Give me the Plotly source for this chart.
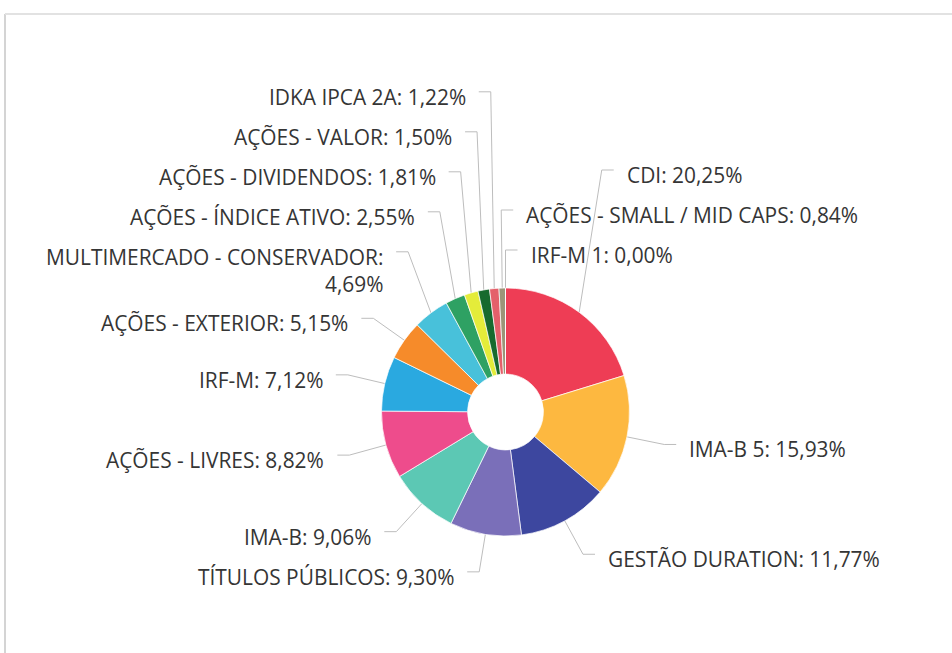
import math
import plotly.graph_objects as go

# ---------------- data ----------------
categories = [
    "CDI", "IMA-B 5", "GESTÃO DURATION", "TÍTULOS PÚBLICOS", "IMA-B",
    "AÇÕES - LIVRES", "IRF-M", "AÇÕES - EXTERIOR", "MULTIMERCADO - CONSERVADOR",
    "AÇÕES - ÍNDICE ATIVO", "AÇÕES - DIVIDENDOS", "AÇÕES - VALOR",
    "IDKA IPCA 2A", "AÇÕES - SMALL / MID CAPS", "IRF-M 1",
]
values = [20.25, 15.93, 11.77, 9.30, 9.06, 8.82, 7.12, 5.15, 4.69,
          2.55, 1.81, 1.50, 1.22, 0.84, 0.00]
colors = [
    "#EE3D55", "#FDB840", "#3D479F", "#7A6FB9", "#5CC8B4",
    "#EE4C8C", "#2AA9E0", "#F68B2A", "#48C1DA",
    "#2EA163", "#E4EC3A", "#176A2E", "#E4606A", "#9C9478", "#8E8E8E",
]

# ---------------- layout settings ----------------
W, H = 952, 653
CX, CY, R = 505.5, 412.0, 124.0
HOLE = 0.306
LABEL_DIST = 38.0        # distance from slice edge to label break point
SEG = 12.0               # horizontal connector segment
TEXT_GAP = 23.0          # distance from break point to text
FONT_SIZE = 20.9
LINE_H = 26.5
TEXT_DY = 5.0
BOX_TOP = 15.0
BOX_BOTTOM = 25.0
FONT_FAMILY = "Open Sans"
TEXT_COLOR = "#353535"
LINE_COLOR = "#BDBDBD"

LEFT_ORDER = ["IDKA IPCA 2A", "AÇÕES - VALOR", "AÇÕES - DIVIDENDOS",
              "AÇÕES - ÍNDICE ATIVO", "MULTIMERCADO - CONSERVADOR",
              "AÇÕES - EXTERIOR", "IRF-M", "AÇÕES - LIVRES", "IMA-B",
              "TÍTULOS PÚBLICOS"]
RIGHT_ORDER = ["CDI", "AÇÕES - SMALL / MID CAPS", "IRF-M 1", "IMA-B 5",
               "GESTÃO DURATION"]
WRAPPED = {"MULTIMERCADO - CONSERVADOR"}


def fmt(v):
    return f"{v:.2f}".replace(".", ",") + "%"


total = sum(values)
geo = {}
acc = 0.0
for name, v in zip(categories, values):
    a0 = acc / total * 360.0
    acc += v
    a1 = acc / total * 360.0
    mid = math.radians((a0 + a1) / 2.0)
    geo[name] = {
        "touch": (CX + R * math.sin(mid), CY - R * math.cos(mid)),
        "nat": (CX + (R + LABEL_DIST) * math.sin(mid),
                CY - (R + LABEL_DIST) * math.cos(mid)),
        "value": v,
    }

fig = go.Figure()

fig.add_trace(go.Pie(
    labels=categories, values=values, sort=False, direction="clockwise",
    rotation=0, hole=HOLE, textinfo="none", showlegend=False,
    marker=dict(colors=colors, line=dict(color="rgba(255,255,255,0.7)", width=1)),
    domain=dict(x=[(CX - R) / W, (CX + R) / W],
                y=[1 - (CY + R) / H, 1 - (CY - R) / H]),
    hoverinfo="label+value",
))

annotations = []
for order, side in ((LEFT_ORDER, -1), (RIGHT_ORDER, 1)):
    # bottom-up upward push to avoid overlaps
    conn = {}
    nxt_top = None
    for name in reversed(order):
        nlines = 2 if name in WRAPPED else 1
        y = geo[name]["nat"][1]
        bottom_extra = BOX_BOTTOM + (nlines - 1) * LINE_H
        if nxt_top is not None and y + bottom_extra > nxt_top:
            y = nxt_top - bottom_extra
        conn[name] = y
        nxt_top = y - BOX_TOP
    for name in order:
        g = geo[name]
        bx = g["nat"][0]
        y = conn[name]
        tx, ty = g["touch"]
        fig.add_trace(go.Scatter(
            x=[bx + side * SEG, bx, tx], y=[y, y, ty], mode="lines",
            line=dict(color=LINE_COLOR, width=1), hoverinfo="skip",
            showlegend=False))
        nlines = 2 if name in WRAPPED else 1
        sep = "<br>" if name in WRAPPED else " "
        text = f"{name}:{sep}{fmt(g['value'])}"
        annotations.append(dict(
            x=bx + side * TEXT_GAP, y=y + TEXT_DY + (nlines - 1) * LINE_H / 2,
            xref="x", yref="y", text=text, showarrow=False,
            xanchor="right" if side < 0 else "left", yanchor="middle",
            align="right" if side < 0 else "left",
            font=dict(family=FONT_FAMILY, size=FONT_SIZE, color=TEXT_COLOR)))

shapes = [
    dict(type="line", xref="x", yref="y", x0=5, y0=14, x1=5, y1=H,
         line=dict(color="#D4D4D4", width=2)),
    dict(type="line", xref="x", yref="y", x0=5, y0=14, x1=W, y1=14,
         line=dict(color="#E2E2E2", width=2)),
]

fig.update_layout(
    width=W, height=H, margin=dict(l=0, r=0, t=0, b=0),
    paper_bgcolor="white", plot_bgcolor="white",
    xaxis=dict(range=[0, W], visible=False, fixedrange=True, domain=[0, 1]),
    yaxis=dict(range=[H, 0], visible=False, fixedrange=True, domain=[0, 1]),
    annotations=annotations, shapes=shapes,
)

fig.write_html(
    "out.html",
    config={"displayModeBar": False},
    post_script="document.body.style.margin='0';document.body.style.overflow='hidden';",
)
